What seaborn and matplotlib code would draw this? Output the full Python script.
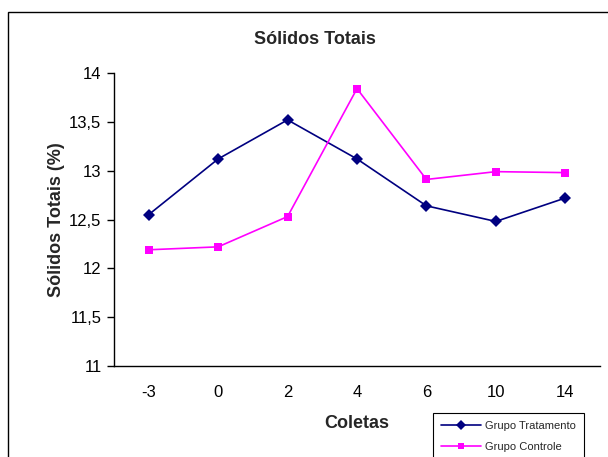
import pandas as pd
import matplotlib
matplotlib.use("Agg")
import matplotlib.pyplot as plt
import matplotlib.ticker as ticker
from matplotlib.patches import Rectangle
import seaborn as sns

# data
coletas = ["-3", "0", "2", "4", "6", "10", "14"]
tratamento = [12.55, 13.12, 13.52, 13.12, 12.64, 12.48, 12.72]
controle = [12.19, 12.22, 12.53, 13.84, 12.91, 12.99, 12.98]
y_ticks = [11, 11.5, 12, 12.5, 13, 13.5, 14]

df = pd.DataFrame({
    "pos": list(range(len(coletas))) * 2,
    "valor": tratamento + controle,
    "grupo": ["Grupo Tratamento"] * len(coletas) + ["Grupo Controle"] * len(coletas),
})

sns.set_theme(style="white")
plt.rcParams["font.family"] = ["Liberation Sans", "DejaVu Sans"]

W, H = 608, 457
fig = plt.figure(figsize=(W / 100, H / 100), dpi=100)
ax = fig.add_axes([114 / W, 1 - 366 / H, (600 - 114) / W, (366 - 73) / H])

# outer chart frame (runs off the right and bottom edges)
fig.patches.append(Rectangle((8 / W, -0.1), 1.2, 1 - 12 / H + 0.1, transform=fig.transFigure,
                             fill=False, edgecolor="black", linewidth=1.0, clip_on=False))

sns.lineplot(data=df, x="pos", y="valor", hue="grupo", style="grupo",
             palette={"Grupo Tratamento": "#000080", "Grupo Controle": "#FF00FF"},
             markers={"Grupo Tratamento": "D", "Grupo Controle": "s"},
             dashes=False, markersize=6, linewidth=1.2, markeredgewidth=0,
             ax=ax)

ax.set_xlim(-0.5, len(coletas) - 0.5)
ax.set_ylim(11, 14)
ax.set_yticks(y_ticks)
ax.yaxis.set_major_formatter(ticker.FuncFormatter(lambda v, p: ("%g" % v).replace(".", ",")))
ax.set_xticks(range(len(coletas)))
ax.set_xticklabels(coletas)
ax.set_xticks([i - 0.5 for i in range(len(coletas) + 1)], minor=True)
ax.tick_params(axis="x", which="major", length=0, pad=13.5, labelsize=12, colors="black")
ax.tick_params(axis="x", which="minor", length=5, width=1, color="black", direction="out")
ax.tick_params(axis="y", length=5, width=1, direction="out", pad=4, labelsize=12,
               colors="black", left=True)

for s in ["top", "right"]:
    ax.spines[s].set_visible(False)
for s in ["left", "bottom"]:
    ax.spines[s].set_color("black")
    ax.spines[s].set_linewidth(1)

ax.set_xlabel("Coletas", fontsize=13, weight="bold", labelpad=11)
ax.set_ylabel("Sólidos Totais (%)", fontsize=13, weight="bold", labelpad=3)
fig.text(315 / W, 1 - 39 / H, "Sólidos Totais", ha="center", va="center",
         fontsize=13, weight="bold")

leg = ax.legend(loc="upper left", bbox_to_anchor=(433 / W, 1 - 413 / H),
                bbox_transform=fig.transFigure, borderaxespad=0, fontsize=8,
                frameon=True, fancybox=False, edgecolor="black", framealpha=1,
                handlelength=3.6, handletextpad=0.3, labelspacing=0.95,
                borderpad=0.75, title=None, markerscale=0.8)
leg.get_frame().set_linewidth(0.8)

plt.savefig("out.png", dpi=100)
